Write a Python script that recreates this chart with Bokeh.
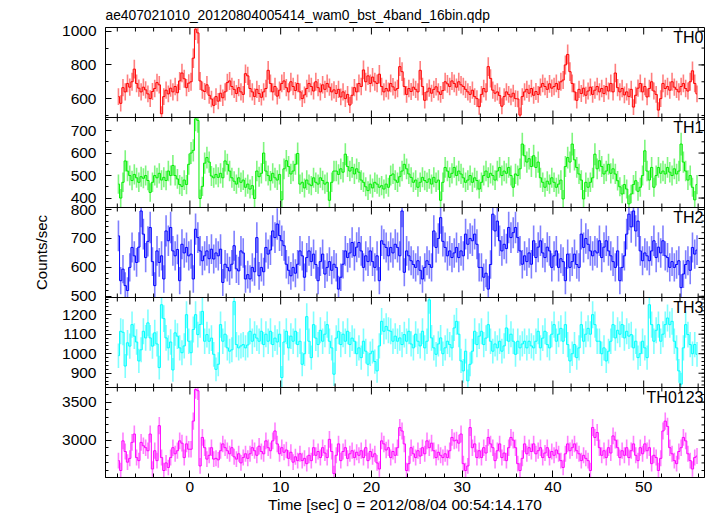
import numpy as np
from bokeh.plotting import figure
from bokeh.models import (Range1d, FixedTicker, Label, Span, CustomJSTickFormatter)
from bokeh.embed import file_html
from bokeh.resources import INLINE

title_text = "ae407021010_20120804005414_wam0_bst_4band_16bin.qdp"
x_label = "Time [sec] 0 = 2012/08/04 00:54:14.170"
y_label = "Counts/sec"
panel_names = ["TH0", "TH1", "TH2", "TH3", "TH0123"]

t_start = -8.0
bin_width = 0.25

th0 = [612, 572, 665, 640, 690, 668, 700, 775, 690, 662, 640, 668, 652, 628, 600, 642,
       660, 695, 682, 510, 612, 650, 628, 662, 640, 672, 635, 705, 752, 718, 665, 692,
       700, 840, 1012, 990, 705, 650, 642, 682, 620, 598, 560, 612, 585, 632, 605, 640,
       695, 705, 672, 655, 630, 665, 640, 625, 748, 735, 660, 640, 612, 655, 630, 608,
       640, 660, 768, 690, 640, 672, 615, 650, 690, 705, 665, 640, 700, 672, 648, 690,
       640, 600, 622, 660, 690, 672, 645, 700, 665, 640, 682, 655, 690, 668, 640, 652,
       630, 655, 610, 640, 600, 625, 562, 620, 665, 640, 690, 672, 770, 700, 735, 690,
       728, 700, 690, 745, 672, 640, 660, 645, 690, 670, 650, 660, 790, 760, 672, 625,
       660, 642, 668, 655, 640, 768, 672, 590, 640, 662, 632, 655, 670, 640, 625, 648,
       700, 688, 672, 705, 690, 668, 700, 682, 672, 655, 640, 625, 650, 612, 600, 552,
       625, 660, 640, 790, 720, 650, 632, 640, 618, 555, 612, 640, 625, 610, 632, 600,
       598, 502, 612, 640, 655, 632, 660, 620, 642, 625, 668, 690, 672, 655, 688, 662,
       672, 690, 655, 700, 710, 800, 862, 760, 690, 640, 590, 655, 630, 662, 620, 645,
       668, 625, 650, 672, 640, 660, 630, 672, 645, 690, 640, 752, 665, 640, 660, 622,
       640, 612, 655, 550, 620, 662, 690, 640, 672, 610, 660, 700, 645, 625, 532, 600,
       690, 660, 672, 650, 700, 668, 655, 640, 672, 690, 660, 645, 700, 765, 690, 628]

th1 = [462, 400, 470, 565, 520, 500, 478, 505, 490, 470, 495, 488, 500, 478, 425, 470,
       500, 490, 510, 480, 492, 478, 520, 500, 545, 500, 485, 460, 452, 480, 460, 550,
       600, 612, 752, 745, 398, 452, 555, 580, 560, 498, 490, 505, 492, 510, 490, 565,
       550, 520, 490, 475, 462, 490, 470, 480, 448, 462, 440, 455, 398, 520, 495, 510,
       600, 520, 500, 477, 510, 490, 480, 505, 392, 530, 566, 540, 507, 520, 550, 598,
       462, 470, 445, 480, 462, 455, 490, 470, 462, 490, 478, 462, 470, 390, 470, 520,
       520, 505, 530, 515, 595, 540, 520, 536, 507, 530, 515, 480, 470, 450, 433, 462,
       445, 470, 462, 448, 455, 440, 462, 448, 500, 507, 480, 470, 495, 520, 550, 530,
       507, 492, 470, 480, 448, 470, 492, 478, 470, 485, 462, 492, 470, 480, 390, 470,
       536, 520, 492, 510, 536, 500, 520, 507, 490, 470, 480, 500, 470, 490, 478, 440,
       470, 500, 520, 492, 510, 500, 480, 520, 536, 500, 520, 510, 536, 500, 448, 507,
       500, 530, 640, 588, 560, 575, 540, 588, 536, 560, 490, 470, 448, 475, 462, 490,
       470, 448, 462, 480, 396, 540, 580, 560, 640, 570, 536, 507, 480, 396, 470, 448,
       470, 490, 595, 530, 566, 540, 507, 520, 550, 510, 530, 507, 477, 450, 418, 460,
       440, 374, 418, 460, 477, 430, 448, 500, 610, 520, 480, 536, 448, 500, 536, 510,
       520, 507, 536, 515, 500, 530, 507, 520, 640, 560, 520, 480, 500, 448, 392, 460]

th2 = [709, 554, 594, 537, 520, 600, 669, 640, 617, 670, 795, 715, 634, 690, 738, 620,
       537, 657, 617, 640, 560, 726, 692, 738, 657, 640, 662, 554, 680, 650, 669, 640,
       646, 560, 732, 703, 657, 623, 640, 657, 630, 663, 629, 650, 640, 663, 548, 611,
       600, 588, 611, 675, 595, 588, 657, 650, 560, 575, 560, 600, 585, 703, 571, 600,
       585, 669, 646, 660, 726, 703, 750, 710, 692, 675, 611, 590, 571, 600, 580, 611,
       657, 640, 566, 634, 657, 620, 646, 610, 554, 620, 646, 577, 600, 620, 590, 611,
       600, 525, 566, 611, 657, 634, 650, 686, 640, 670, 686, 657, 600, 640, 620, 657,
       620, 600, 640, 554, 692, 680, 669, 640, 669, 650, 680, 669, 640, 795, 583, 657,
       640, 623, 610, 600, 623, 590, 560, 600, 623, 610, 600, 726, 669, 700, 772, 690,
       669, 640, 657, 634, 650, 669, 634, 657, 640, 715, 680, 700, 692, 715, 680, 600,
       600, 566, 580, 525, 610, 784, 726, 760, 692, 657, 680, 665, 738, 703, 720, 738,
       703, 657, 611, 640, 620, 650, 611, 692, 634, 670, 692, 650, 634, 670, 657, 600,
       640, 657, 600, 630, 620, 554, 646, 600, 620, 646, 610, 600, 715, 669, 700, 680,
       657, 640, 657, 650, 692, 634, 670, 692, 657, 640, 620, 600, 657, 554, 600, 640,
       715, 784, 740, 795, 726, 760, 657, 623, 650, 640, 623, 657, 692, 634, 670, 650,
       692, 640, 634, 600, 620, 600, 610, 623, 530, 577, 610, 623, 590, 669, 646, 660]

th3 = [990, 1115, 1110, 937, 1056, 1039, 1149, 1090, 1060, 963, 1020, 1115, 1081, 1158, 1081, 1039,
       1107, 1050, 929, 1251, 1180, 1081, 1030, 1060, 917, 1107, 1090, 1030, 1005, 1040, 1200, 1064,
       1005, 1124, 1200, 1098, 1150, 1217, 1064, 1098, 1064, 1080, 997, 920, 946, 1149, 1064, 1100,
       1030, 1013, 1020, 1268, 1047, 1030, 1040, 1047, 1030, 1045, 1115, 1064, 1100, 1080, 1064, 1115,
       1047, 1100, 1064, 1115, 1047, 1080, 1060, 1100, 878, 1060, 1115, 1030, 1090, 1064, 1115, 1047,
       1064, 946, 1000, 1190, 1064, 980, 1149, 1080, 1047, 1120, 1064, 1100, 1149, 1064, 1030, 895,
       1080, 1115, 1047, 1100, 1064, 1115, 1047, 1080, 1064, 1000, 1030, 980, 1064, 1013, 946, 1000,
       1013, 960, 912, 1040, 1166, 1115, 1140, 1120, 1115, 1064, 1090, 1064, 1081, 1047, 1098, 1064,
       1115, 1050, 1030, 1100, 1064, 1040, 1115, 1030, 1064, 1276, 1081, 1030, 997, 1050, 1081, 1000,
       1030, 1064, 1047, 1030, 1132, 1166, 1100, 963, 912, 1013, 861, 946, 1013, 1115, 1047, 1090,
       1115, 1047, 1080, 1149, 1064, 1013, 1050, 1030, 1064, 1013, 1040, 1132, 1064, 1100, 1064, 997,
       1064, 1030, 1050, 1064, 1030, 1064, 1040, 1030, 1064, 1115, 1030, 1080, 1115, 1047, 1030, 1100,
       1149, 1064, 1100, 1130, 1064, 1149, 1047, 963, 1000, 1047, 980, 1030, 1149, 1064, 1100, 1130,
       1100, 1200, 1149, 1064, 1064, 1000, 1030, 963, 1013, 1064, 1149, 1081, 1120, 1100, 1149, 1081,
       1115, 1090, 1098, 1030, 1064, 980, 1000, 1064, 1030, 980, 1251, 1149, 1064, 1120, 1149, 1064,
       1100, 1149, 1183, 1149, 1166, 1064, 1030, 912, 844, 1030, 1149, 1098, 1047, 1000, 1047, 997]

th0123 = [2730, 2600, 2990, 2850, 2710, 2760, 2970, 3080, 2770, 2730, 2970, 2925, 2900, 2860, 3080, 2620,
          2860, 2730, 3190, 2770, 2600, 2700, 2640, 2770, 2900, 2820, 2860, 2990, 2960, 2770, 2950, 2880,
          2880, 3250, 3665, 3650, 2660, 3035, 2900, 2750, 2800, 2900, 2750, 2760, 2740, 2860, 2950, 2900,
          2860, 2820, 2900, 2780, 2750, 2820, 2700, 2770, 2820, 2760, 2820, 2900, 2860, 2800, 2920, 2850,
          2820, 2990, 2900, 2860, 2990, 3120, 2950, 2820, 2900, 2840, 2870, 2760, 2840, 2710, 2780, 2730,
          2820, 2730, 2760, 2690, 2800, 2730, 2900, 2800, 2850, 2770, 2900, 2830, 2770, 3010, 2850, 2560,
          2800, 2950, 2730, 2850, 2900, 2760, 2820, 2860, 2770, 2840, 2800, 2860, 2770, 2900, 2730, 2850,
          2780, 2820, 2700, 2620, 2990, 2950, 2870, 2900, 2770, 2850, 2800, 2900, 3165, 3120, 2950, 2600,
          2690, 2900, 2820, 2770, 2860, 2790, 2900, 2820, 2990, 2900, 2960, 2860, 2770, 2840, 2800, 2770,
          2820, 2770, 2860, 3035, 2990, 3000, 2960, 3080, 2690, 2600, 2660, 3165, 2900, 2950, 2770, 2860,
          2770, 2900, 2830, 3035, 2950, 2900, 2730, 2860, 2950, 2770, 2830, 2730, 2900, 3035, 3000, 2900,
          2690, 2600, 2760, 2950, 2820, 2900, 2850, 2950, 2820, 2860, 2900, 2770, 2830, 2900, 2770, 2850,
          2800, 2870, 2820, 2730, 2640, 2820, 2950, 2860, 2900, 2950, 2860, 2820, 2730, 2800, 2760, 2730,
          2600, 3165, 3035, 3100, 2900, 2800, 2860, 2770, 2900, 2830, 3055, 3000, 2900, 2770, 2860, 2800,
          2900, 2770, 2860, 2950, 2800, 2730, 2900, 2820, 2950, 2860, 2900, 2690, 2800, 2770, 2600, 2760,
          3120, 3250, 3180, 2900, 2820, 2730, 2690, 2850, 2900, 3035, 2990, 2820, 2730, 2620, 2770, 2790]

series = [th0, th1, th2, th3, th0123]
colors = ["#ff0000", "#00ee00", "#0000ff", "#00ffff", "#ff00ff"]

x_major = [0, 10, 20, 30, 40, 50]
x_minor = [-8, -6, -4, -2, 2, 4, 6, 8, 12, 14, 16, 18, 22, 24, 26, 28, 32, 34, 36, 38,
           42, 44, 46, 48, 52, 54, 56]
y_ranges = [(488, 1022), (358, 758), (496, 807), (827, 1288), (2508, 3692)]
y_major = [[600, 800, 1000], [400, 500, 600, 700], [500, 600, 700, 800],
           [900, 1000, 1100, 1200], [3000, 3500]]
y_minor_step = [100, 50, 20, 20, 100]

FONT = "Liberation Sans"
X0, X1 = -9.3, 56.7
FRAME_W, BAND_H = 599, 90
NP = len(series)
px_per_s = FRAME_W / (X1 - X0)

# one frame, five stacked bands; each panel has its own y scale (extra range)
p = figure(x_range=Range1d(X0, X1), y_range=Range1d(0, NP),
           frame_width=FRAME_W, frame_height=BAND_H * NP,
           output_backend="svg", toolbar_location=None,
           min_border_left=105, min_border_right=2, min_border_top=20,
           min_border_bottom=0, title=title_text)
p.grid.visible = False
p.outline_line_color = "black"
p.outline_line_width = 1
p.background_fill_color = "white"
p.border_fill_color = "white"

p.title.text_font = FONT
p.title.text_font_size = "13.8px"
p.title.text_font_style = "normal"
p.title.text_color = "black"
p.title.align = "left"
p.title.standoff = 10

tick_pos, tick_lab, minor_pos = [], [], []
right_maj, right_min = [], []
for k in range(NP):
    lo, hi = y_ranges[k]
    b = NP - 1 - k  # band index from bottom
    span = hi - lo
    rname = "p%d" % k
    p.extra_y_ranges[rname] = Range1d(lo - b * span, hi + (NP - 1 - b) * span)
    for v in y_major[k]:
        pos = round(b + (v - lo) / span, 6)
        tick_pos.append(pos)
        tick_lab.append(str(v))
        right_maj.append(pos)
    st = y_minor_step[k]
    for v in range(int(np.ceil(lo / st) * st), int(hi) + 1, st):
        minor_pos.append(b + (v - lo) / span)
        right_min.append(b + (v - lo) / span)

    vals = np.array(series[k], dtype=float)
    t = t_start + bin_width * (np.arange(len(vals)) + 0.5)
    err = np.sqrt(vals * bin_width) / bin_width
    c = colors[k]
    p.segment(x0=t, y0=np.clip(vals - err, lo, hi), x1=t, y1=np.clip(vals + err, lo, hi),
              line_color=c, line_alpha=0.5, line_width=1.6, y_range_name=rname)
    p.step(t, np.clip(vals, lo, hi), mode="center", line_color=c, line_width=1,
           y_range_name=rname)

    p.add_layout(Label(x=X1, y=b + 1, text=panel_names[k], text_align="right",
                       text_baseline="top", x_offset=-1, y_offset=-1,
                       text_font=FONT, text_font_size="16px", text_color="black"))

# left axis: real tick labels per panel
ya = p.yaxis[0]
ya.ticker = FixedTicker(ticks=tick_pos, minor_ticks=minor_pos)
ya.formatter = CustomJSTickFormatter(args=dict(pos=tick_pos, lab=tick_lab), code="""
    let best = 0, bd = 1e9;
    for (let i = 0; i < pos.length; i++) {
        const d = Math.abs(pos[i] - tick);
        if (d < bd) { bd = d; best = i; }
    }
    return lab[best];
""")
ya.major_tick_in = 6
ya.major_tick_out = 0
ya.minor_tick_in = 3
ya.minor_tick_out = 0
ya.axis_line_color = "black"
ya.major_tick_line_color = "black"
ya.minor_tick_line_color = "black"
ya.major_label_text_font = FONT
ya.major_label_text_font_size = "15.5px"
ya.major_label_text_color = "black"
ya.major_label_standoff = 9
ya.axis_label = y_label
ya.axis_label_text_font = FONT
ya.axis_label_text_font_size = "15px"
ya.axis_label_text_font_style = "normal"
ya.axis_label_text_color = "black"
ya.axis_label_standoff = 9

xa = p.xaxis[0]
xa.ticker = FixedTicker(ticks=x_major, minor_ticks=x_minor)
xa.major_tick_in = 7
xa.major_tick_out = 0
xa.minor_tick_in = 4
xa.minor_tick_out = 0
xa.axis_line_color = "black"
xa.major_tick_line_color = "black"
xa.minor_tick_line_color = "black"
xa.major_label_text_font = FONT
xa.major_label_text_font_size = "15.5px"
xa.major_label_text_color = "black"
xa.major_label_standoff = 4
xa.axis_label = x_label
xa.axis_label_text_font = FONT
xa.axis_label_text_font_size = "15.5px"
xa.axis_label_text_font_style = "normal"
xa.axis_label_text_color = "black"
xa.axis_label_standoff = 1

# panel separators
for b in range(1, NP):
    p.add_layout(Span(location=b, dimension="width", line_color="black", line_width=1))

# inward x ticks at every panel boundary (and the top edge)
maj_d, min_d = 7.0 / BAND_H, 4.0 / BAND_H
sx, sy0, sy1 = [], [], []
for b in range(1, NP + 1):
    for xv, d in [(xv, maj_d) for xv in x_major] + [(xv, min_d) for xv in x_minor]:
        sx.append(xv)
        sy0.append(b - d)
        sy1.append(min(b + d, NP))
p.segment(x0=sx, y0=sy0, x1=sx, y1=sy1, line_color="black", line_width=1)

# inward y ticks on the right edge
rx0 = [X1 - 6.0 / px_per_s] * len(right_maj) + [X1 - 3.0 / px_per_s] * len(right_min)
ry = right_maj + right_min
p.segment(x0=rx0, y0=ry, x1=[X1] * len(ry), y1=ry, line_color="black", line_width=1)

open("out.html", "w").write(file_html(p, INLINE))
